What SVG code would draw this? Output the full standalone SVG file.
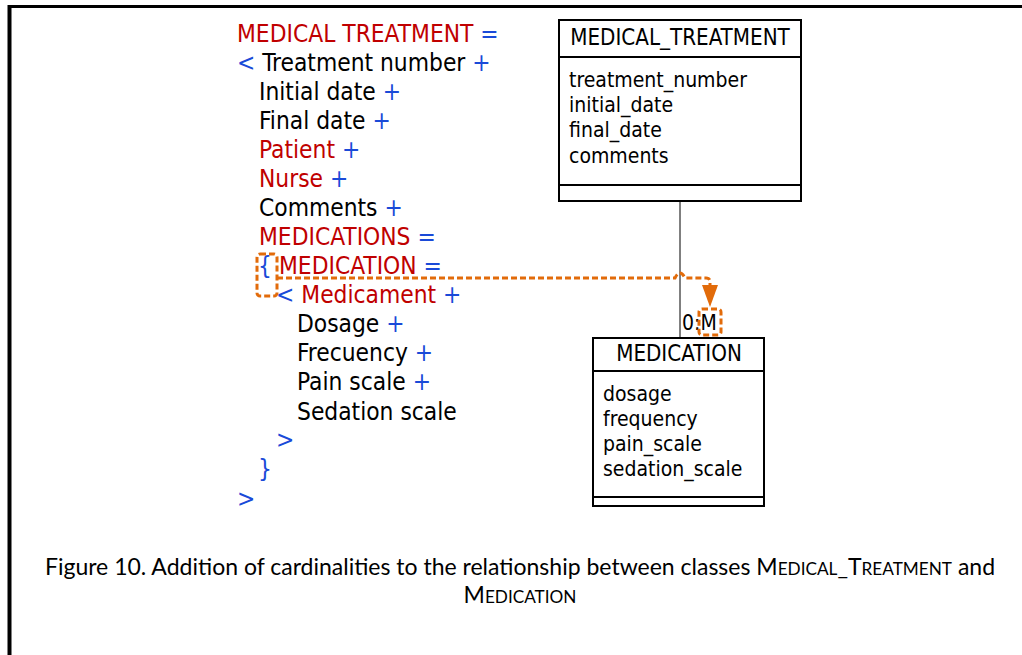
<svg xmlns="http://www.w3.org/2000/svg" width="1022" height="655" viewBox="0 0 1022 655">
<style>
.t{font-family:"DejaVu Sans Condensed","DejaVu Sans",sans-serif;font-stretch:condensed;font-size:24.3px;fill:#000}
.b{font-family:"DejaVu Sans Condensed","DejaVu Sans",sans-serif;font-stretch:condensed;font-size:21px;fill:#000}
.h{font-size:22.2px}
.r{fill:#C00000}
.u{fill:#1A4AD8}
.box{fill:#fff;stroke:#000;stroke-width:2}
.ln{stroke:#000;stroke-width:2}
.or{fill:none;stroke:#E26B0A;stroke-width:3;stroke-dasharray:6 3}
.cap{font-family:"Lato","Open Sans",sans-serif;font-size:23px;fill:#000}
.sc{font-size:17.2px}
</style>
<rect width="1022" height="655" fill="#fff"/>
<g id="frame">
<line x1="8" y1="6.5" x2="1022" y2="6.5" stroke="#000" stroke-width="3"/>
<line x1="9.5" y1="5" x2="9.5" y2="655" stroke="#000" stroke-width="4"/>
</g>
<g id="dd-text" class="t">
<text x="237" y="42"><tspan class="r">MEDICAL TREATMENT</tspan><tspan class="u"> =</tspan></text>
<text x="237" y="71"><tspan class="u">&lt;</tspan> Treatment number<tspan class="u"> +</tspan></text>
<text x="259" y="100">Initial date<tspan class="u"> +</tspan></text>
<text x="259" y="129">Final date<tspan class="u"> +</tspan></text>
<text x="259" y="158"><tspan class="r">Patient</tspan><tspan class="u"> +</tspan></text>
<text x="259" y="187"><tspan class="r">Nurse</tspan><tspan class="u"> +</tspan></text>
<text x="259" y="216">Comments<tspan class="u"> +</tspan></text>
<text x="259" y="245"><tspan class="r">MEDICATIONS</tspan><tspan class="u"> =</tspan></text>
<text x="258" y="274"><tspan class="u">{</tspan></text>
<text x="279" y="274"><tspan class="r">MEDICATION</tspan><tspan class="u"> =</tspan></text>
<text x="276" y="303"><tspan class="u">&lt;</tspan><tspan class="r"> Medicament</tspan><tspan class="u"> +</tspan></text>
<text x="297" y="332">Dosage<tspan class="u"> +</tspan></text>
<text x="297" y="361">Frecuency<tspan class="u"> +</tspan></text>
<text x="297" y="390">Pain scale<tspan class="u"> +</tspan></text>
<text x="297" y="420">Sedation scale</text>
<text x="276" y="448" class="u">&gt;</text>
<text x="258" y="477" class="u">}</text>
<text x="237" y="507" class="u">&gt;</text>
</g>
<g id="connectors">
<line x1="680" y1="201" x2="680" y2="338" stroke="#000" stroke-width="1"/>
<text x="682" y="330" class="b">0:M</text>
</g>
<g id="MEDICAL_TREATMENT">
<rect class="box" x="559" y="20" width="242" height="181"/>
<line class="ln" x1="559" y1="57" x2="801" y2="57"/>
<line class="ln" x1="559" y1="185" x2="801" y2="185"/>
<text x="680" y="45" class="b h" text-anchor="middle">MEDICAL_TREATMENT</text>
<text x="569" y="87" class="b">treatment_number</text>
<text x="569" y="112" class="b">initial_date</text>
<text x="569" y="137" class="b">final_date</text>
<text x="569" y="163" class="b">comments</text>
</g>
<g id="MEDICATION">
<rect class="box" x="593" y="338" width="171" height="168"/>
<line class="ln" x1="593" y1="371" x2="764" y2="371"/>
<line class="ln" x1="593" y1="497" x2="764" y2="497"/>
<text x="679" y="361" class="b h" text-anchor="middle">MEDICATION</text>
<text x="603" y="401" class="b">dosage</text>
<text x="603" y="426" class="b">frequency</text>
<text x="603" y="451" class="b">pain_scale</text>
<text x="603" y="476" class="b">sedation_scale</text>
</g>
<g id="highlight">
<rect class="or" x="257" y="254" width="20" height="42" rx="3"/>
<rect class="or" x="699" y="309" width="22" height="26" rx="3"/>
<path class="or" d="M277 278 H675 Q680 268 685 278 H706 Q710 278 710 282 V288"/>
<polygon points="702,285 718,285 710,307" fill="#E26B0A"/>
</g>
<g id="caption">
<text class="cap" x="520" y="575" text-anchor="middle">Figure 10. Addition of cardinalities to the relationship between classes M<tspan class="sc">EDICAL</tspan>_T<tspan class="sc">REATMENT</tspan> and</text>
<text class="cap" x="520" y="603" text-anchor="middle">M<tspan class="sc">EDICATION</tspan></text>
</g>
</svg>
